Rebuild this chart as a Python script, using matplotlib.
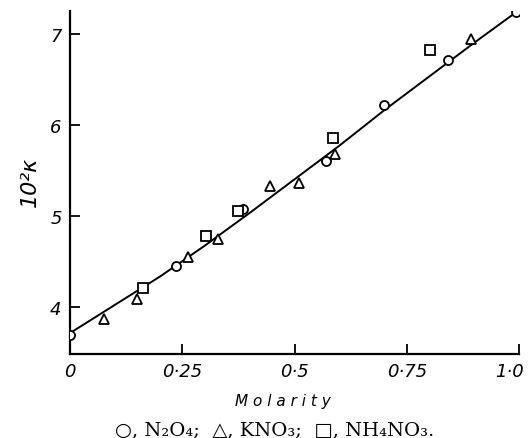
import matplotlib
matplotlib.use("Agg")
import matplotlib.pyplot as plt
import matplotlib.transforms as mtransforms

# Data
n2o4_x = [0.0, 0.236, 0.385, 0.570, 0.700, 0.842, 0.993]
n2o4_y = [3.69, 4.45, 5.07, 5.60, 6.22, 6.71, 7.24]
kno3_x = [0.076, 0.149, 0.263, 0.330, 0.445, 0.510, 0.590, 0.893]
kno3_y = [3.87, 4.08, 4.55, 4.74, 5.33, 5.36, 5.68, 6.94]
nh4no3_x = [0.163, 0.303, 0.374, 0.586, 0.802]
nh4no3_y = [4.21, 4.78, 5.05, 5.85, 6.82]
curve_x = [0.0, 0.1, 0.2, 0.3, 0.4, 0.5, 0.6, 0.7, 0.8, 0.9, 1.0]
curve_y = [3.71, 4.02, 4.33, 4.67, 5.03, 5.40, 5.77, 6.16, 6.53, 6.90, 7.26]
xticks = [0, 0.25, 0.5, 0.75, 1.0]
xtick_labels = ["0", "0·25", "0·5", "0·75", "1·0"]
yticks = [4, 5, 6, 7]
ytick_labels = ["4", "5", "6", "7"]

W, H = 528, 439
fig = plt.figure(figsize=(W / 100, H / 100), dpi=100)
left, right, bottom, top = 70, 519, 355, 12
ax = fig.add_axes([left / W, 1 - bottom / H, (right - left) / W, (bottom - top) / H])
ax.set_xlim(0, 1.0)
ax.set_ylim(3.48, 7.25)

ax.plot(curve_x, curve_y, color="black", lw=1.4, zorder=2)
mk = dict(ls="none", mfc="white", mec="black", mew=1.3, ms=6.5, zorder=3)
ax.plot(n2o4_x, n2o4_y, marker="o", **mk)
ax.plot(kno3_x, kno3_y, marker="^", **mk)
ax.plot(nh4no3_x, nh4no3_y, marker="s", **mk)

for s in ["top", "right"]:
    ax.spines[s].set_visible(False)
for s in ["left", "bottom"]:
    ax.spines[s].set_linewidth(1.6)

ax.set_xticks(xticks)
ax.set_xticklabels(xtick_labels, fontstyle="italic", fontsize=13)
ax.set_yticks(yticks)
ax.set_yticklabels(ytick_labels, fontstyle="italic", fontsize=13)
ax.tick_params(direction="in", length=7, width=1.3, pad=6)
last = ax.get_xticklabels()[-1]
last.set_transform(last.get_transform() +
                   mtransforms.ScaledTranslation(-10 / 100, 0, fig.dpi_scale_trans))

fig.text(30 / W, 1 - 182 / H, "10²κ", rotation=90, fontstyle="italic",
         fontsize=16, ha="center", va="center")
fig.text(283 / W, 1 - 402 / H, "M o l a r i t y", fontstyle="italic",
         fontsize=11, ha="center", va="center")
fig.text(275 / W, 1 - 430 / H, "○, N₂O₄;  △, KNO₃;  □, NH₄NO₃.",
         family=["DejaVu Serif"], fontsize=14,
         ha="center", va="center")

fig.savefig("out.png", dpi=100)
